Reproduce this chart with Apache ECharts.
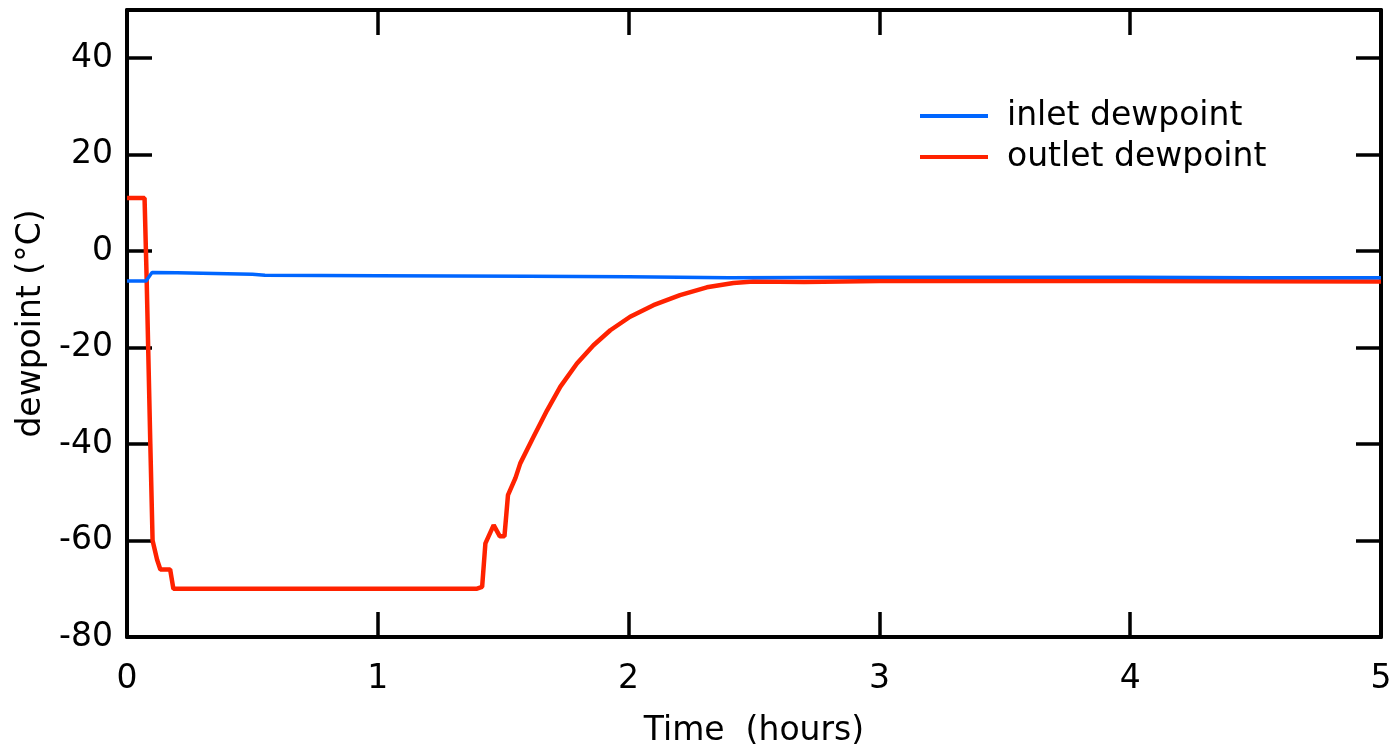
<!DOCTYPE html>
<html>
<head>
<meta charset="utf-8">
<script src="https://cdn.jsdelivr.net/npm/echarts@6/dist/echarts.min.js"></script>
<style>
html,body{margin:0;padding:0;background:#fff;}
#chart{width:1398px;height:753px;}
</style>
</head>
<body>
<div id="chart"></div>
<script>
// ---- data ----
const xTicks = [0, 1, 2, 3, 4, 5];
const yTicks = [-80, -60, -40, -20, 0, 20, 40];

const inletTime = [0, 0.076, 0.1, 0.2, 0.5, 0.55, 1.0, 1.6, 2.0, 2.4, 3.0, 4.0, 4.5, 5.0];
const inletDew  = [-6.2, -6.2, -4.4, -4.5, -4.8, -5.0, -5.1, -5.2, -5.3, -5.5, -5.4, -5.4, -5.5, -5.5];

const outletTime = [0, 0.070, 0.078, 0.093, 0.102, 0.12, 0.133, 0.172, 0.185, 1.0, 1.393, 1.416, 1.429, 1.462, 1.486, 1.505, 1.519, 1.549, 1.568, 1.621, 1.675, 1.728, 1.794, 1.86, 1.927, 2.006, 2.099, 2.205, 2.312, 2.418, 2.497, 2.7, 3.0, 4.0, 5.0];
const outletDew  = [11, 11, -5, -40, -60, -64, -66, -66, -70, -70, -70, -69.6, -60.6, -56.8, -59.1, -59.1, -50.6, -47, -44, -38.5, -33, -28.1, -23.3, -19.5, -16.4, -13.6, -11.2, -9.1, -7.5, -6.6, -6.3, -6.4, -6.2, -6.2, -6.3];

const seriesNames = ['inlet dewpoint', 'outlet dewpoint'];

const zip = (a, b) => a.map((v, i) => [v, b[i]]);

const FONT = 'DejaVu Sans';
const FS = 33;
const tickStyle = {show: true, inside: true, length: 25, lineStyle: {color: '#000', width: 3.5}};
const lineStyleAxis = {show: true, onZero: false, lineStyle: {color: '#000', width: 4}};

const chart = echarts.init(document.getElementById('chart'));
chart.setOption({
  animation: false,
  backgroundColor: '#fff',
  grid: {left: 127, right: 17, top: 10, bottom: 116, containLabel: false},
  legend: {
    data: seriesNames,
    orient: 'vertical',
    left: 920,
    top: 96,
    padding: 0,
    itemWidth: 68,
    itemHeight: 4,
    itemGap: 1,
    icon: 'rect',
    textStyle: {fontFamily: FONT, fontSize: FS, color: '#000', lineHeight: 40, padding: [0, 0, 0, 14]}
  },
  xAxis: [{
    type: 'value', min: 0, max: 5, interval: 1,
    name: 'Time  (hours)', nameLocation: 'middle', nameGap: 78,
    nameTextStyle: {fontFamily: FONT, fontSize: FS, color: '#000'},
    axisLine: lineStyleAxis, axisTick: tickStyle,
    axisLabel: {fontFamily: FONT, fontSize: FS, color: '#000', margin: 26, customValues: xTicks},
    splitLine: {show: false}
  }, {
    type: 'value', min: 0, max: 5, interval: 1, position: 'top',
    axisLine: lineStyleAxis, axisTick: tickStyle, axisLabel: {show: false}, splitLine: {show: false}
  }],
  yAxis: [{
    type: 'value', min: -80, max: 50, interval: 20,
    name: 'dewpoint (°C)', nameLocation: 'middle', nameGap: 78,
    nameTextStyle: {fontFamily: FONT, fontSize: FS, color: '#000'},
    axisLine: lineStyleAxis,
    axisTick: Object.assign({}, tickStyle, {customValues: yTicks}),
    axisLabel: {fontFamily: FONT, fontSize: FS, color: '#000', margin: 14, customValues: yTicks},
    splitLine: {show: false}
  }, {
    type: 'value', min: -80, max: 50, interval: 20, position: 'right',
    axisLine: lineStyleAxis,
    axisTick: Object.assign({}, tickStyle, {customValues: yTicks}),
    axisLabel: {show: false}, splitLine: {show: false}
  }],
  series: [{
    name: seriesNames[1], type: 'line', data: zip(outletTime, outletDew),
    showSymbol: false, symbol: 'none', color: '#ff2200',
    lineStyle: {color: '#ff2200', width: 4.5}, z: 2
  }, {
    name: seriesNames[0], type: 'line', data: zip(inletTime, inletDew),
    showSymbol: false, symbol: 'none', color: '#0066ff',
    lineStyle: {color: '#0066ff', width: 3.5}, z: 3
  }]
});
</script>
</body>
</html>
